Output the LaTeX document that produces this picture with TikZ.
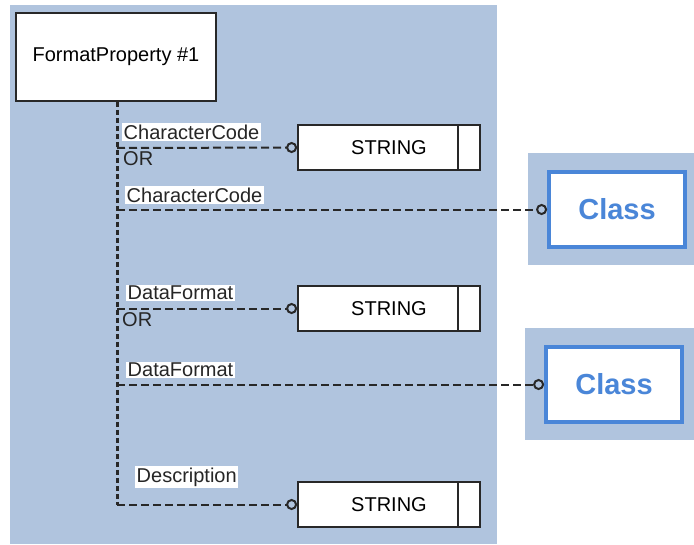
\documentclass[tikz,border=0pt]{standalone}
\usepackage{fontspec}
\setmainfont{Liberation Sans}
\usetikzlibrary{arrows.meta,calc}
\definecolor{bgblue}{RGB}{176,196,222}
\definecolor{clsblue}{RGB}{74,134,216}
\definecolor{linegray}{RGB}{40,40,40}
\tikzset{
  x=1pt,y=-1pt,
  every node/.style={font=\fontsize{20}{22}\selectfont},
  propbox/.style={draw=linegray,line width=1.8pt,fill=white,minimum width=200pt,minimum height=88pt,inner sep=0pt},
  strbox/.style={draw=linegray,line width=1.8pt,fill=white,minimum width=182pt,minimum height=45pt,inner sep=0pt,
    text width=160pt,align=center,
    path picture={\draw[linegray,line width=1.8pt] ($(path picture bounding box.north east)+(-22pt,0)$) -- ($(path picture bounding box.south east)+(-22pt,0)$);}},
  clsbox/.style={draw=clsblue,line width=3.8pt,fill=white,minimum width=136pt,minimum height=75pt,inner sep=0pt,
    text=clsblue,font=\fontsize{29}{32}\selectfont\bfseries},
  lbl/.style={fill=white,inner sep=1.5pt,anchor=west,text=black!85},
  ortxt/.style={inner sep=0pt,anchor=west,text=black!85},
  trunk/.style={dash pattern=on 5pt off 3pt,line width=3pt,draw=linegray},
  link/.style={dash pattern=on 8pt off 4pt,line width=2pt,draw=linegray,
    -{Circle[open,length=11pt,width=11pt,line width=2pt]}},
}
\begin{document}
\begin{tikzpicture}
\useasboundingbox (0,0) rectangle (694,544);
% backgrounds
\fill[bgblue] (10,5) rectangle (497,544);
\fill[bgblue] (528,153) rectangle (694,265);
\fill[bgblue] (525,328) rectangle (694,440);
% nodes
\node[propbox] (fp) at (116,57) {FormatProperty \#1};
\node[strbox] (s1) at (389,147.5) {STRING};
\node[strbox] (s2) at (389,308.5) {STRING};
\node[strbox] (s3) at (389,504.5) {STRING};
\node[clsbox] (c1) at (617,209.5) {Class};
\node[clsbox] (c2) at (614,384.5) {Class};
% junction coordinates on trunk
\coordinate (j1) at (117,148);
\coordinate (j2) at (117,209.5);
\coordinate (j3) at (117,308.5);
\coordinate (j4) at (117,384.5);
\coordinate (j5) at (117,504.5);
% trunk
\draw[trunk] (fp.south -| j1) -- (j5);
% links
\draw[link] (j1) -- (s1.west);
\draw[link] (j2) -- (c1.west);
\draw[link] (j3) -- (s2.west);
\draw[link] (j4) -- (c2.west);
\draw[link] (j5) -- (s3.west);
% labels
\node[lbl] (l1) at (122,132) {CharacterCode};
\node[ortxt] (o1) at (123,159) {OR};
\node[lbl] (l2) at (125,195) {CharacterCode};
\node[lbl] (l3) at (126,293) {DataFormat};
\node[ortxt] (o2) at (122,320) {OR};
\node[lbl] (l4) at (126,370) {DataFormat};
\node[lbl] (l5) at (135,477) {Description};
\end{tikzpicture}
\end{document}
